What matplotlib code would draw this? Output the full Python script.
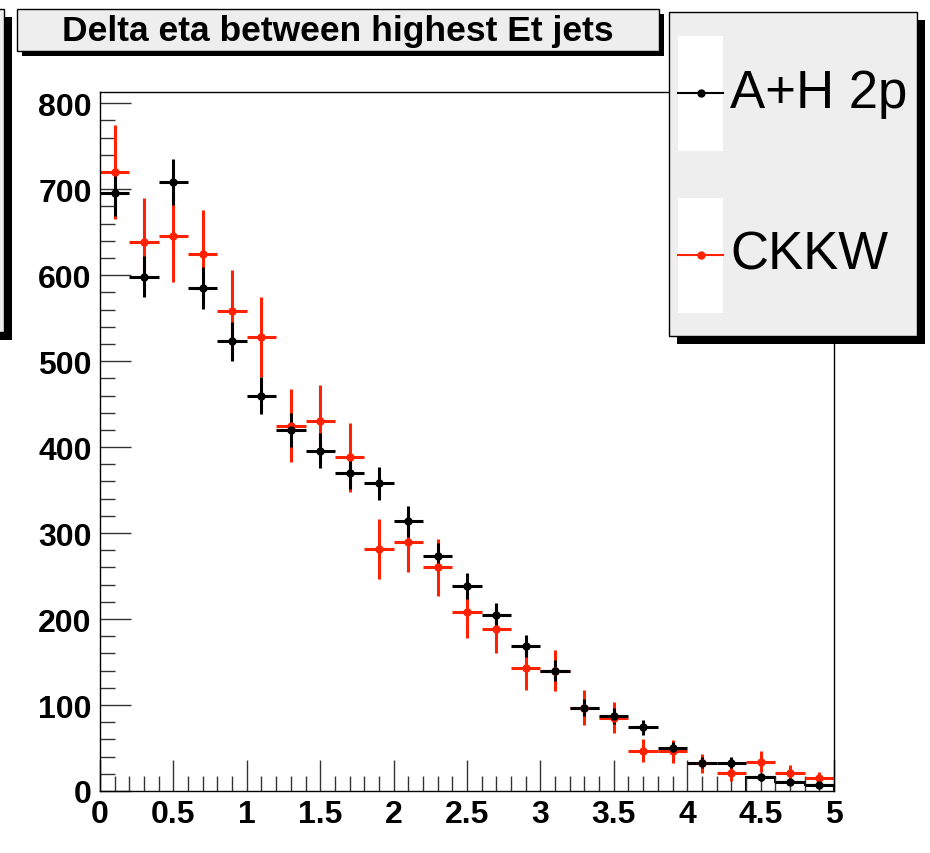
import numpy as np
import matplotlib
matplotlib.use("Agg")
import matplotlib.pyplot as plt
from matplotlib.patches import Rectangle
from matplotlib.lines import Line2D
from matplotlib.ticker import MultipleLocator, FuncFormatter

plt.rcParams['font.family'] = ['Liberation Sans', 'DejaVu Sans']

# 25 bins of width 0.2 between 0 and 5
bin_edges = np.linspace(0, 5, 26)
bin_centers = 0.5 * (bin_edges[:-1] + bin_edges[1:])

# A+H 2p (black)
ah_vals = [695, 598, 708, 585, 523, 460, 420, 396, 370, 358,
           314, 273, 238, 205, 169, 140, 97, 87, 74, 50,
           33, 33, 16, 11, 7]
ah_errs = [26, 24, 27, 24, 23, 21, 20, 20, 19, 19,
           18, 16, 15, 14, 13, 12, 10, 9, 9, 7,
           6, 6, 4, 3, 3]

# CKKW (red)
ck_vals = [720, 638, 645, 624, 558, 528, 425, 430, 388, 281,
           290, 260, 208, 189, 143, 140, 97, 85, 47, 46,
           32, 21, 34, 21, 15]
ck_errs = [55, 52, 53, 52, 48, 47, 42, 42, 40, 35,
           35, 33, 30, 28, 25, 24, 20, 18, 13, 13,
           11, 9, 12, 9, 7]

title = "Delta eta between highest Et jets"
labels = ["A+H 2p", "CKKW"]
red = "#ff2200"
grey = "#eeeeee"

W, H = 930, 854
fig = plt.figure(figsize=(W / 100, H / 100), dpi=100)


def fx(px):
    return px / W


def fy(py):
    return 1 - py / H


def box(x0, y0, x1, y1, shadow=0, fc=grey):
    # box given in pixels from the top-left corner, with a ROOT-like shadow
    if shadow:
        fig.patches.append(Rectangle((fx(x0 + shadow), fy(y1 + shadow)), fx(x1 - x0), (y1 - y0) / H,
                                     transform=fig.transFigure, fc="black", ec="none", zorder=2))
    fig.patches.append(Rectangle((fx(x0), fy(y1)), fx(x1 - x0), (y1 - y0) / H,
                                 transform=fig.transFigure, fc=fc, ec="black", lw=1, zorder=3))


ax = fig.add_axes([fx(100), fy(792), fx(834 - 100), (792 - 93) / H])

ax.errorbar(bin_centers, ck_vals, xerr=0.1, yerr=ck_errs, fmt='o', ms=5,
            color=red, ecolor=red, elinewidth=2.2, capsize=0)
ax.errorbar(bin_centers, ah_vals, xerr=0.1, yerr=ah_errs, fmt='o', ms=5,
            color='black', ecolor='black', elinewidth=2.2, capsize=0)
ax.stairs(ah_vals[-3:], bin_edges[-4:], baseline=0, color='black', lw=1.5)

ax.set_xlim(0, 5)
ax.set_ylim(0, 813)
ax.xaxis.set_major_locator(MultipleLocator(0.5))
ax.xaxis.set_minor_locator(MultipleLocator(0.1))
ax.yaxis.set_major_locator(MultipleLocator(100))
ax.yaxis.set_minor_locator(MultipleLocator(20))
ax.xaxis.set_major_formatter(FuncFormatter(lambda v, p: f"{v:g}"))
ax.tick_params(which='both', direction='in', top=False, right=False, width=1, color='#333333')
ax.tick_params(which='major', length=22)
ax.tick_params(which='minor', length=11)
ax.tick_params(axis='y', which='major', pad=6, labelsize=23)
ax.tick_params(axis='x', which='major', pad=6, labelsize=23)
for lab in ax.get_xticklabels() + ax.get_yticklabels():
    lab.set_fontweight('bold')
for sp in ax.spines.values():
    sp.set_linewidth(1)

# partial box at the left edge
box(-20, 10, 4, 333, shadow=8)

# title box
box(17, 10, 659, 52, shadow=5)
fig.text(fx(338), fy(31), title, ha='center', va='center', fontsize=25.5, fontweight='bold', zorder=4)

# legend
box(669, 13, 917, 337, shadow=8)
for i, (lab, col) in enumerate(zip(labels, ['black', red])):
    ytop = 37 + i * 162
    fig.patches.append(Rectangle((fx(678), fy(ytop + 115)), fx(45), 115 / H,
                                 transform=fig.transFigure, fc='white', ec='none', zorder=4))
    yl = 94 + i * 162
    fig.add_artist(Line2D([fx(678), fx(723)], [fy(yl), fy(yl)], color=col, lw=1.5,
                          transform=fig.transFigure, zorder=5))
    fig.add_artist(Line2D([fx(701)], [fy(yl)], marker='o', ms=5, color=col,
                          transform=fig.transFigure, zorder=5))
    fig.text(fx(730), fy(yl), lab, ha='left', va='center', fontsize=38, zorder=5)

fig.savefig("out.png", dpi=100)
